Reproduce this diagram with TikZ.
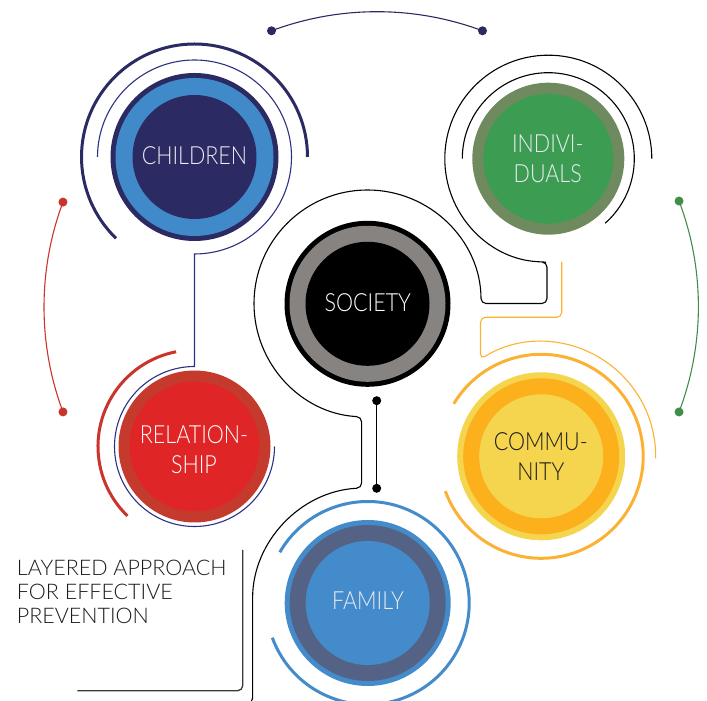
\documentclass[tikz,border=0pt]{standalone}
\usepackage{fontspec}
\IfFontExistsTF{Lato Light}{\setmainfont{Lato Light}[FakeStretch=0.86]\newfontfamily\titlefont{Lato Light}}{\setmainfont{Lato}[FakeStretch=0.86]\newfontfamily\titlefont{Lato}}
\usetikzlibrary{calc}
\definecolor{cnavy}{HTML}{2B2A63}
\definecolor{cnavyline}{HTML}{2E3183}
\definecolor{clblue}{HTML}{418AC9}
\definecolor{cred}{HTML}{E02527}
\definecolor{credring}{HTML}{C43B2E}
\definecolor{credarc}{HTML}{C9342C}
\definecolor{cgray}{HTML}{878381}
\definecolor{colive}{HTML}{6F8A5F}
\definecolor{cgreen}{HTML}{3C9C51}
\definecolor{cgreenarc}{HTML}{3F8F4B}
\definecolor{cylight}{HTML}{F5D54E}
\definecolor{corange}{HTML}{FBB01C}
\definecolor{corangearc}{HTML}{FBB234}
\definecolor{cfblue}{HTML}{438BCA}
\definecolor{cslate}{HTML}{546385}
\definecolor{ctextw}{HTML}{ECECF2}
\definecolor{cdark}{HTML}{1E1B1C}
\definecolor{cboxline}{HTML}{3A3A3A}
\begin{document}
\begin{tikzpicture}[x=1pt,y=1pt,
  thinline/.style={line width=1.1pt},
  thickarc/.style={line width=3pt},
  dotnode/.style={circle,inner sep=0pt,minimum size=9pt},
  lbl/.style={font=\fontsize{25}{30}\selectfont,align=center,inner sep=0pt,text=ctextw},
  titletext/.style={font=\titlefont\fontsize{21.5}{24}\selectfont,align=left,inner sep=0pt,text=cdark}]
\useasboundingbox (0,0) rectangle (707,701);
% centres
\coordinate (cC) at (194.5,544);
\coordinate (cS) at (367.5,397.2);
\coordinate (cI) at (548.3,542.3);
\coordinate (cR) at (194.5,254.5);
\coordinate (cM) at (541.2,244.7);
\coordinate (cF) at (367.7,98);
% outer dotted arcs
\node[dotnode,fill=cnavy] (t1) at ($(377,388)+(110.5:301.3)$) {};
\node[dotnode,fill=cnavy] (t2) at ($(377,388)+(69.5:301.3)$) {};
\draw[thinline,cnavy] (t1.center) arc[start angle=110.5,end angle=69.5,radius=301.3];
\node[dotnode,fill=credarc] (r1) at ($(343.6,394)+(159.5:299.6)$) {};
\node[dotnode,fill=credarc] (r2) at ($(343.6,394)+(200.5:299.6)$) {};
\draw[thinline,credarc] (r1.center) arc[start angle=159.5,end angle=200.5,radius=299.6];
\node[dotnode,fill=cgreenarc] (g1) at ($(401.4,394.5)+(20.8:297)$) {};
\node[dotnode,fill=cgreenarc] (g2) at ($(401.4,394.5)+(-20.8:297)$) {};
\draw[thinline,cgreenarc] (g1.center) arc[start angle=20.8,end angle=-20.8,radius=297];
% society dots
\node[dotnode,fill=black] (s1) at (376.7,300.3) {};
\node[dotnode,fill=black] (s2) at (376.7,212.7) {};
\draw[line width=1.5pt] (s1) -- (s2);
% black main path
\draw[thinline,black,rounded corners=5]
  ($(cI)+(0:103.5)$) arc[start angle=0,end angle=266,radius=103.5]
  -- (547,438.8) -- (547,397.5) -- (481,397.5)
  arc[start angle=0,end angle=267,radius=113.5]
  -- (361.6,213) arc[start angle=93,end angle=180,radius=115]
  -- (252.7,-2) -- (236,-2);
\draw[thinline,black] ($(cI)+(180:86)$) arc[start angle=180,end angle=-48.7,radius=86];
% orange path
\draw[thinline,corangearc,rounded corners=5]
  (561.7,439.3) -- (561.7,383.7) -- (480.5,383.7) -- (480.5,341.8)
  arc[start angle=122,end angle=-1,radius=114.5];
\draw[thickarc,corangearc] ($(cM)+(149:102)$) arc[start angle=149,end angle=-160,radius=102];
% children arcs
\draw[thickarc,cnavy] ($(cC)+(0:113)$) arc[start angle=0,end angle=226,radius=113];
\draw[thinline,cnavyline] ($(cC)+(180:97)$) arc[start angle=180,end angle=-90,radius=97]
  -- ($(cR)+(90:80)$) arc[start angle=90,end angle=360,radius=80];
% relationship arc
\draw[thickarc,credarc] ($(cR)+(101:96.5)$) arc[start angle=101,end angle=226,radius=96.5];
% family arc
\draw[thickarc,cfblue] ($(cF)+(150:101.5)$) arc[start angle=150,end angle=-160,radius=101.5];
% box line
\draw[line width=1.3pt,cboxline,rounded corners=5] (242.7,151) -- (242.7,10.3) -- (77.3,10.3);
% circles
\fill[cnavy] (cC) circle (84); \fill[clblue] (cC) circle (79); \fill[cnavy] (cC) circle (62);
\fill[black] (cS) circle (83); \fill[cgray] (cS) circle (78); \fill[black] (cS) circle (62);
\fill[colive] (cI) circle (76); \fill[cgreen] (cI) circle (65);
\fill[credring] (cR) circle (76); \fill[cred] (cR) circle (65);
\fill[cylight] (cM) circle (84); \fill[corange] (cM) circle (78); \fill[cylight] (cM) circle (62);
\fill[cfblue] (cF) circle (83); \fill[cslate] (cF) circle (78); \fill[cfblue] (cF) circle (62);
% labels
\node[lbl] (children) at (194.5,545.1) {CHILDREN};
\node[lbl,text=white] (society) at (367.8,398.5) {SOCIETY};
\node[lbl] (individuals) at (547.8,542.7) {INDIVI-\\DUALS};
\node[lbl,text=white] (relationship) at (194,251.8) {RELATION-\\SHIP};
\node[lbl,text=cdark] (community) at (540.8,244.3) {COMMU-\\NITY};
\node[lbl] (family) at (368,100.1) {FAMILY};
\node[titletext,anchor=north west] (title) at (16.7,141) {LAYERED APPROACH\\FOR EFFECTIVE\\PREVENTION};
\end{tikzpicture}
\end{document}
